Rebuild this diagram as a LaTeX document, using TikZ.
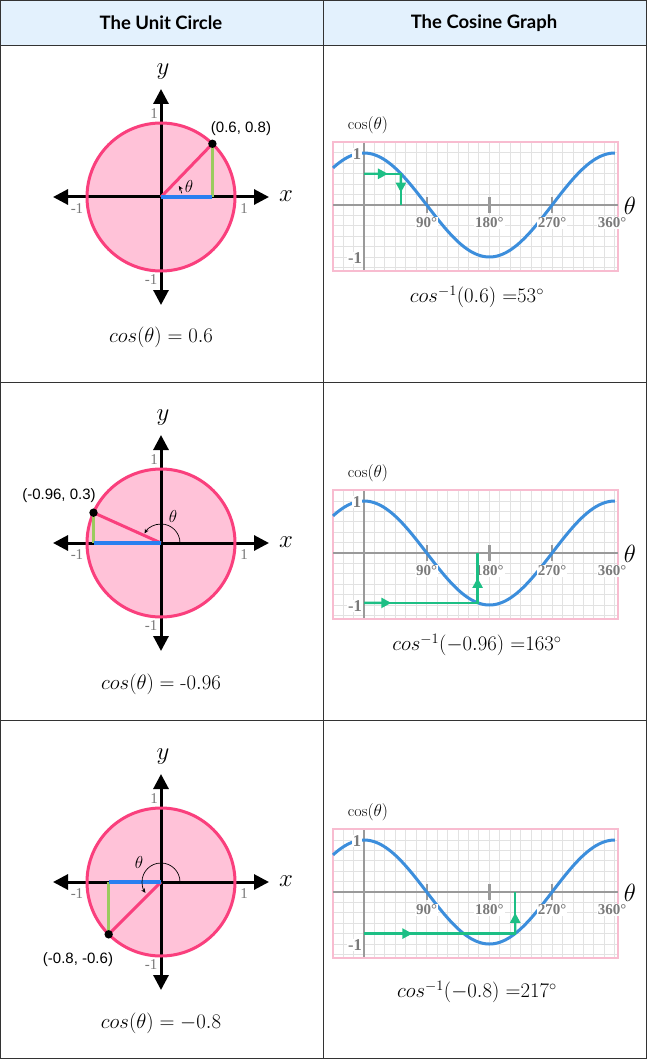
\documentclass[tikz,border=0pt]{standalone}
\usepackage{fontspec}
\usetikzlibrary{arrows.meta,calc}
\newfontfamily\headfont{Lato}
\newfontfamily\ptfont{Liberation Sans}
\newfontfamily\tickfont{Liberation Serif}
\definecolor{hdr}{HTML}{E3F1FD}
\definecolor{cfill}{HTML}{FFC2D8}
\definecolor{cline}{HTML}{FA3F7D}
\definecolor{bseg}{HTML}{2A7FF0}
\definecolor{gseg}{HTML}{9BCB5E}
\definecolor{curvec}{HTML}{3C8EDC}
\definecolor{gridc}{HTML}{E2E2E2}
\definecolor{framec}{HTML}{F8BCD0}
\definecolor{axg}{HTML}{9A9A9A}
\definecolor{garr}{HTML}{1DBF85}
\definecolor{lblg}{HTML}{7A7A7A}
\tikzset{
  bigaxis/.style={line width=3pt,{Triangle[width=15pt,length=15pt]}-{Triangle[width=15pt,length=15pt]}},
  axlbl/.style={text=lblg,font=\tickfont\fontsize{15}{15}\selectfont,inner sep=0pt},
  xylbl/.style={font=\fontsize{26}{26}\selectfont,inner sep=0pt},
  ptlbl/.style={font=\ptfont\fontsize{15}{15}\selectfont,inner sep=0pt},
  thlbl/.style={font=\fontsize{16}{16}\selectfont,inner sep=0pt},
  captxt/.style={font=\fontsize{20.5}{20.5}\selectfont,inner sep=0pt},
  hd/.style={font=\headfont\bfseries\fontsize{18.5}{18.5}\selectfont,inner sep=0pt},
  ticklbl/.style={font=\tickfont\bfseries\fontsize{15}{15}\selectfont,text=lblg,fill=white,inner sep=1pt},
  ylbl/.style={font=\tickfont\bfseries\fontsize{16.5}{16.5}\selectfont,text=lblg,fill=white,inner sep=1pt},
  greenline/.style={garr,line width=2.4pt},
  greentip/.style={garr,line width=2.4pt,-{Triangle[width=10pt,length=10pt]}},
  anglearc/.style={line width=0.7pt,-{Stealth[length=4.5pt,width=4pt]}},
}
\newcommand\circlebase{%
  \fill[cfill] (0,0) circle (74);
  \draw[bigaxis] (-108,0) -- (108,0);
  \draw[bigaxis] (0,-108) -- (0,108);
  \draw[cline,line width=3pt] (0,0) circle (74);
  \node[axlbl] at (-7,83) {1};
  \node[axlbl] at (-84,-12) {-1};
  \node[axlbl] at (83,-12) {1};
  \node[axlbl] at (-10,-83) {-1};
  \node[xylbl] at (2,125) {$y$};
  \node[xylbl] at (125,1) {$x$};
}
\newcommand\cosgraph{%
  \begin{scope}
    \clip (-31,-63) rectangle (254,66);
    \foreach \ii in {-3,...,24} {\draw[gridc,line width=1pt] (\ii*10.45,-70) -- (\ii*10.45,70);}
    \foreach \jj in {-7,...,7} {\draw[gridc,line width=1pt] (-40,\jj*10.4) -- (260,\jj*10.4);}
  \end{scope}
  \draw[framec,line width=2pt] (-31,-63) rectangle (254,66);
  \draw[axg,line width=2.2pt] (-31,0) -- (254,0);
  \draw[axg,line width=2.2pt] (0,-62) -- (0,65);
  \foreach \mm in {62.7,125.4,188.1} {\draw[axg,line width=2.2pt] (\mm,-8) -- (\mm,8);}
  \draw[curvec,line width=3pt] plot[variable=\aa,domain=-44.5:360,samples=140] ({\aa*0.69667},{-52*cos(\aa)});
  \node[ylbl] at (-7,-51) {1};
  \node[ylbl] at (-9,53) {-1};
  \node[ticklbl] at (62.7,18) {90°};
  \node[ticklbl] at (125.4,18) {180°};
  \node[ticklbl] at (188.1,18) {270°};
  \node[ticklbl] at (248,18) {360°};
  \node[font=\fontsize{25}{25}\selectfont,inner sep=0pt] at (266,1) {$\theta$};
  \node[font=\fontsize{16}{16}\selectfont,inner sep=0pt] at (4,-80) {$\cos(\theta)$};
}
\begin{document}
\begin{tikzpicture}[x=1pt,y=-1pt]
\useasboundingbox (0,0) rectangle (647,1059);
\fill[white] (0,0) rectangle (647,1059);
\fill[hdr] (0,0) rectangle (647,46);
\node[hd] (h1) at (161,23) {The Unit Circle};
\node[hd] (h2) at (484,23) {The Cosine Graph};

% ---- Row 1 circle
\begin{scope}[shift={(161,197)},yscale=-1]
  \circlebase
  \coordinate (O) at (0,0);
  \coordinate (P) at (46:74);
  \coordinate (F) at (P |- O);
  \draw[cline,line width=3pt] (O) -- (P);
  \draw[gseg,line width=3pt] (P) -- (F);
  \draw[bseg,line width=3.5pt] (O) -- (F);
  \fill (P) circle (4.2);
  \draw[anglearc] (10:21) arc (10:32:21);
  \node[thlbl] at (28,10) {$\theta$};
  \node[ptlbl] at (80,68) {(0.6, 0.8)};
\end{scope}
\node[captxt] (c1) at (161,337) {$cos(\theta) = 0.6$};

% ---- Row 2 circle
\begin{scope}[shift={(161,543)},yscale=-1]
  \circlebase
  \coordinate (O) at (0,0);
  \coordinate (P) at (155.8:74);
  \coordinate (F) at (P |- O);
  \draw[cline,line width=3pt] (O) -- (P);
  \draw[gseg,line width=3pt] (P) -- (F);
  \draw[bseg,line width=3.5pt] (O) -- (F);
  \fill (P) circle (4.2);
  \draw[anglearc] (0:19) arc (0:150:19);
  \node[thlbl] at (12,27) {$\theta$};
  \node[ptlbl] at (-102,47) {(-0.96, 0.3)};
\end{scope}
\node[captxt] (c2) at (161,684) {$cos(\theta) = \mbox{-}0.96$};

% ---- Row 3 circle
\begin{scope}[shift={(161,882)},yscale=-1]
  \circlebase
  \coordinate (O) at (0,0);
  \coordinate (P) at (225:74);
  \coordinate (F) at (P |- O);
  \draw[cline,line width=3pt] (O) -- (P);
  \draw[gseg,line width=3pt] (P) -- (F);
  \draw[bseg,line width=3.5pt] (O) -- (F);
  \fill (P) circle (4.2);
  \draw[anglearc] (0:19) arc (0:215:19);
  \node[thlbl] at (-22,20) {$\theta$};
  \node[ptlbl] at (-83,-78) {(-0.8, -0.6)};
\end{scope}
\node[captxt] (c3) at (161,1023) {$cos(\theta) = -0.8$};

% ---- Graph 1
\begin{scope}[shift={(364,205)}]
  \cosgraph
  \coordinate (s) at (0,-31.2);
  \coordinate (c) at (36.9,-31.2);
  \coordinate (e) at (36.9,0);
  \draw[greenline] (s) -- (c) -- (e);
  \draw[greentip] (s) -- ($(s)!0.65!(c)$);
  \draw[greentip] (c) -- ($(c)!0.6!(e)$);
\end{scope}
\node[captxt] (g1) at (477,297) {$cos^{-1}(0.6)\ {=}53^\circ$};

% ---- Graph 2
\begin{scope}[shift={(364,553)}]
  \cosgraph
  \coordinate (s) at (0,49.9);
  \coordinate (c) at (113.6,49.9);
  \coordinate (e) at (113.6,0);
  \draw[greenline] (s) -- (c) -- (e);
  \draw[greentip] (s) -- ($(s)!0.24!(c)$);
  \draw[greentip] (c) -- ($(c)!0.5!(e)$);
\end{scope}
\node[captxt] (g2) at (477,645) {$cos^{-1}(-0.96)\ {=}163^\circ$};

% ---- Graph 3
\begin{scope}[shift={(364,892)}]
  \cosgraph
  \coordinate (s) at (0,41.6);
  \coordinate (c) at (151.2,41.6);
  \coordinate (e) at (151.2,0);
  \draw[greenline] (s) -- (c) -- (e);
  \draw[greentip] (s) -- ($(s)!0.32!(c)$);
  \draw[greentip] (c) -- ($(c)!0.5!(e)$);
\end{scope}
\node[captxt] (g3) at (477,992) {$cos^{-1}(-0.8)\ {=}217^\circ$};

% ---- table lines
\draw[line width=1pt,black!80] (0.5,0.5) rectangle (646.5,1058.5);
\draw[line width=1pt,black!80] (0,46) -- (647,46);
\draw[line width=1pt,black!80] (323,0) -- (323,1059);
\draw[line width=1pt,black!80] (0,382) -- (647,382);
\draw[line width=1pt,black!80] (0,720) -- (647,720);
\end{tikzpicture}
\end{document}
